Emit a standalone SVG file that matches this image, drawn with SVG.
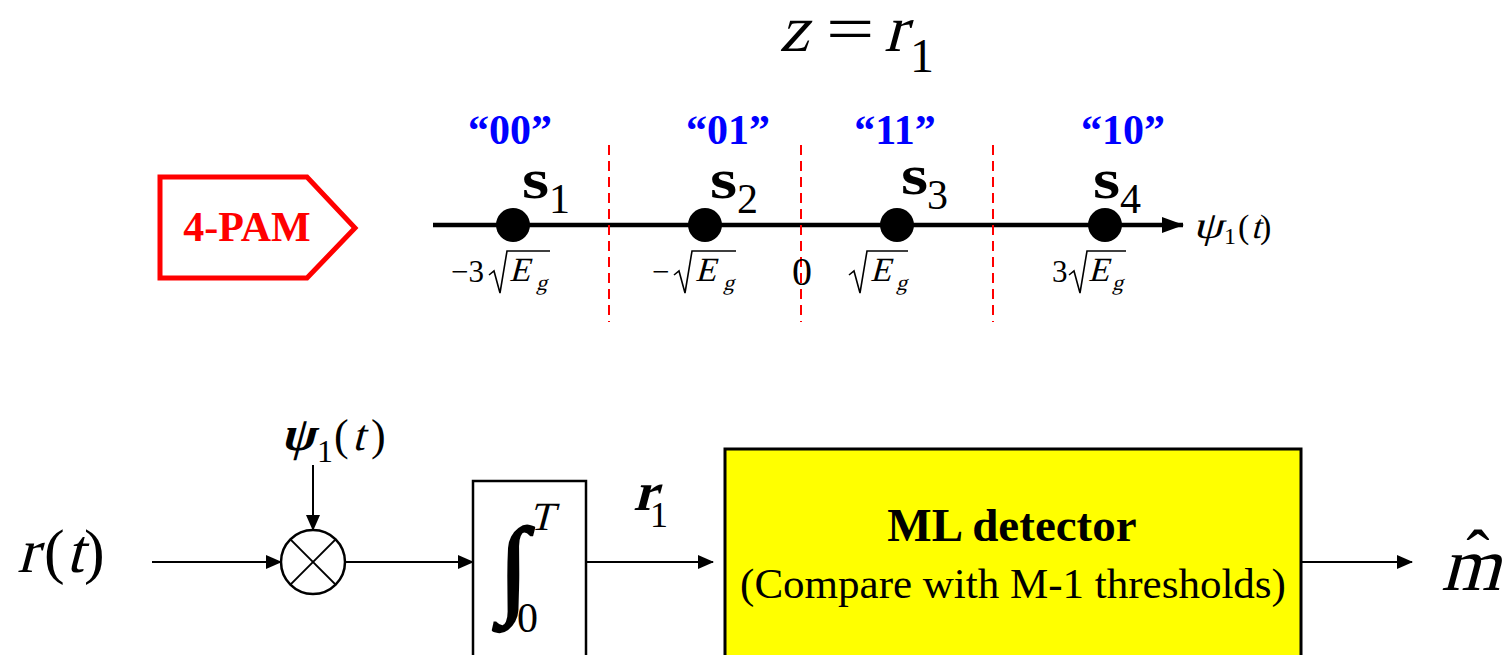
<svg xmlns="http://www.w3.org/2000/svg" width="1506" height="655" viewBox="0 0 1506 655">
<style>
.t{font-family:"Liberation Serif","Times New Roman",serif;fill:#000}
.b{font-weight:bold}
.lab{font-family:"Liberation Serif","Times New Roman",serif;font-weight:bold;fill:#0000ff;font-size:42px;text-anchor:middle}
.dash{stroke:#ff0000;stroke-width:2;stroke-dasharray:10 6}
.thin{stroke:#000;stroke-width:2;fill:none}
.rad{stroke:#000;stroke-width:1.6;fill:none;stroke-linejoin:miter}
.dot{fill:#000}
</style>
<defs>
<marker id="ah" markerUnits="userSpaceOnUse" markerWidth="16" markerHeight="14" refX="15" refY="7" orient="auto">
<path d="M0,0 L16,7 L0,14 Z" fill="#000"/>
</marker>
<marker id="ahb" markerUnits="userSpaceOnUse" markerWidth="22" markerHeight="16" refX="21" refY="8" orient="auto">
<path d="M0,0 L22,8 L0,16 Z" fill="#000"/>
</marker>
</defs>

<g id="title">
<text class="t" transform="translate(779 51) skewX(-15)" font-size="66">z</text>
<text class="t" transform="translate(826 51) scale(1.3 1)" font-size="66">=</text>
<text class="t" transform="translate(884 51) skewX(-15)" font-size="66">r</text>
<text class="t" x="910" y="72" font-size="48">1</text>
</g>

<g id="pam-tag">
<polygon points="160,177 307,177 355,228 307,278 160,278" fill="#fff" stroke="#ff0000" stroke-width="5"/>
<text x="247" y="241" font-family="Liberation Serif, serif" font-weight="bold" font-size="42" fill="#ff0000" text-anchor="middle">4-PAM</text>
</g>

<g id="axis">
<line x1="433" y1="225" x2="1183" y2="225" stroke="#000" stroke-width="4.5" marker-end="url(#ahb)"/>
<text class="t" transform="translate(1193 238) skewX(-15) scale(1.25 1)" font-size="38">ψ</text>
<text class="t" x="1224" y="244" font-size="24">1</text>
<text class="t" x="1238" y="238" font-size="34">(</text>
<text class="t" transform="translate(1251 238) skewX(-15)" font-size="34">t</text>
<text class="t" x="1260" y="238" font-size="34">)</text>
</g>

<g id="thresholds">
<line class="dash" x1="609" y1="145" x2="609" y2="322"/>
<line class="dash" x1="801" y1="145" x2="801" y2="322"/>
<line class="dash" x1="993" y1="145" x2="993" y2="322"/>
</g>

<g id="s1">
<text class="lab" x="510" y="144">“00”</text>
<circle class="dot" cx="513" cy="225" r="17"/>
<text class="t b" transform="translate(522 198) scale(1.2 1)" font-size="58">s</text>
<text class="t" x="549" y="213" font-size="42">1</text>
<text class="t" x="451" y="282" font-size="31">−3</text>
<polyline class="rad" points="489,275 494,271 500,293 507,251 550,251"/>
<text class="t" transform="translate(509 281) skewX(-15)" font-size="34">E</text>
<text class="t" transform="translate(536 290) skewX(-15)" font-size="22">g</text>
</g>

<g id="s2">
<text class="lab" x="728" y="144">“01”</text>
<circle class="dot" cx="705" cy="225" r="17"/>
<text class="t b" transform="translate(710 198) scale(1.2 1)" font-size="58">s</text>
<text class="t" x="737" y="213" font-size="42">2</text>
<text class="t" x="652" y="282" font-size="31">−</text>
<polyline class="rad" points="674,275 679,271 685,293 692,251 736,251"/>
<text class="t" transform="translate(695 281) skewX(-15)" font-size="34">E</text>
<text class="t" transform="translate(723 290) skewX(-15)" font-size="22">g</text>
</g>

<g id="zero">
<text class="t" x="802" y="285" font-size="40" text-anchor="middle">0</text>
</g>

<g id="s3">
<text class="lab" x="895" y="144">“11”</text>
<circle class="dot" cx="897" cy="225" r="17"/>
<text class="t b" transform="translate(901 194) scale(1.2 1)" font-size="58">s</text>
<text class="t" x="927" y="209" font-size="42">3</text>
<polyline class="rad" points="849,275 854,271 860,293 867,251 908,251"/>
<text class="t" transform="translate(870 281) skewX(-15)" font-size="34">E</text>
<text class="t" transform="translate(896 290) skewX(-15)" font-size="22">g</text>
</g>

<g id="s4">
<text class="lab" x="1123" y="144">“10”</text>
<circle class="dot" cx="1105" cy="225" r="17"/>
<text class="t b" transform="translate(1093 198) scale(1.2 1)" font-size="58">s</text>
<text class="t" x="1120" y="213" font-size="42">4</text>
<text class="t" x="1052" y="282" font-size="31">3</text>
<polyline class="rad" points="1069,275 1074,271 1080,293 1087,251 1126,251"/>
<text class="t" transform="translate(1088 281) skewX(-15)" font-size="34">E</text>
<text class="t" transform="translate(1112 290) skewX(-15)" font-size="22">g</text>
</g>

<g id="input">
<text class="t" transform="translate(17 572) skewX(-15)" font-size="62">r</text>
<text class="t" x="44" y="572" font-size="62">(</text>
<text class="t" transform="translate(66 572) skewX(-15)" font-size="62">t</text>
<text class="t" x="84" y="572" font-size="62">)</text>
</g>

<g id="basis">
<text class="t b" transform="translate(281 450) skewX(-15)" font-size="48">ψ</text>
<text class="t" x="317" y="462" font-size="32">1</text>
<text class="t" x="334" y="450" font-size="44">(</text>
<text class="t" transform="translate(352 450) skewX(-15)" font-size="44">t</text>
<text class="t" x="371" y="450" font-size="44">)</text>
</g>

<g id="multiplier">
<circle cx="313" cy="562" r="32" fill="#fff" stroke="#000" stroke-width="2.5"/>
<line class="thin" x1="290.4" y1="539.4" x2="335.6" y2="584.6"/>
<line class="thin" x1="335.6" y1="539.4" x2="290.4" y2="584.6"/>
</g>

<g id="integrator">
<rect x="473" y="481" width="113" height="190" fill="#fff" stroke="#000" stroke-width="2.5"/>
<text class="t" x="499" y="603" font-size="108" stroke="#000" stroke-width="2.6">∫</text>
<text class="t" transform="translate(529 530) skewX(-15)" font-size="40">T</text>
<text class="t" x="517" y="632" font-size="42">0</text>
</g>

<g id="r1label">
<text class="t b" transform="translate(633 510) skewX(-15)" font-size="54">r</text>
<text class="t" x="650" y="527" font-size="36">1</text>
</g>

<g id="detector">
<rect x="725" y="449" width="576" height="222" fill="#ffff00" stroke="#000" stroke-width="3"/>
<text class="t b" x="1012" y="541" font-size="47" text-anchor="middle">ML detector</text>
<text class="t" x="1013" y="598" font-size="43" text-anchor="middle">(Compare with M-1 thresholds)</text>
</g>

<g id="output">
<text class="t" transform="translate(1441 590) skewX(-15)" font-size="76">m</text>
<text class="t" x="1478" y="578" font-size="70" text-anchor="middle">ˆ</text>
</g>

<g id="connectors">
<line class="thin" x1="152" y1="562" x2="281" y2="562" marker-end="url(#ah)"/>
<line class="thin" x1="313" y1="465" x2="313" y2="530" marker-end="url(#ah)"/>
<line class="thin" x1="345" y1="562" x2="473" y2="562" marker-end="url(#ah)"/>
<line class="thin" x1="586" y1="562" x2="713" y2="562" marker-end="url(#ah)"/>
<line class="thin" x1="1301" y1="562" x2="1412" y2="562" marker-end="url(#ah)"/>
</g>
</svg>
